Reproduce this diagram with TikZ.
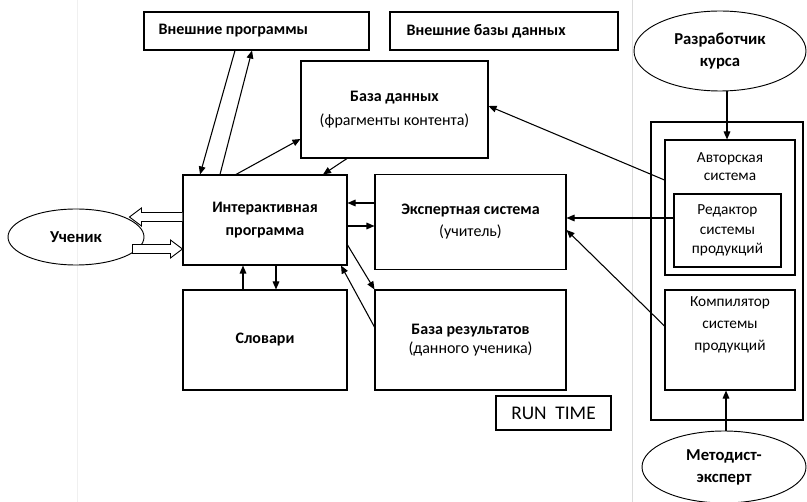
\documentclass[tikz,border=0pt]{standalone}
\usepackage{fontspec}
\setmainfont{Carlito}
\usetikzlibrary{arrows.meta,shapes.geometric}
\begin{document}
\begin{tikzpicture}[x=0.75pt,y=-0.75pt,
  box/.style 2 args={draw, line width=0.8pt, minimum width=#1*0.75pt, minimum height=#2*0.75pt, inner sep=0pt, align=center},
  ell/.style 2 args={draw, ellipse, line width=0.7pt, minimum width=#1*0.75pt, minimum height=#2*0.75pt, inner sep=0pt, align=center},
  arr/.style={line width=0.8pt, -{Triangle[length=6pt,width=5pt]}},
  hollow/.style={draw, line width=0.7pt, fill=white},
  tb/.style={font=\fontsize{12}{17}\selectfont\bfseries},
  tm/.style={font=\fontsize{12}{18}\selectfont},
  ts/.style={font=\fontsize{11.5}{#1}\selectfont, align=center},
  sep/.style={line width=0.6pt}
]
\fill[white] (0,0) rectangle (807,502);
\useasboundingbox (0,0) rectangle (807,502);
\draw[sep, black!14] (632,0) -- (632,502);
\draw[sep, black!6] (77,0) -- (77,502);

% top boxes
\node[box={225}{38}] (ep) at (256.5,31) {};
\node[tb, anchor=west, inner sep=0pt] (ept) at ([xshift=11.25pt]ep.west) {Внешние программы};
\node[box={228}{38}] (edb) at (504,31) {};
\node[tb, anchor=west, inner sep=0pt] (edbt) at ([xshift=12.75pt]edb.west) {Внешние базы данных};

% central boxes
\node[box={187}{97}, tm] (db) at (394.5,109.5) {\textbf{База данных}\\(фрагменты контента)};
\node[box={164}{90}, tm, font=\fontsize{12}{17.5}\selectfont\bfseries] (ip) at (265,220) {Интерактивная\\программа};
\node[box={191}{95}, font=\fontsize{12}{16.5}\selectfont] (es) at (470.5,222) {\textbf{Экспертная система}\\(учитель)};
\node[box={164}{100}, tb] (dict) at (265,340) {Словари};
\node[box={191}{100}, font=\fontsize{12}{14.5}\selectfont] (res) at (470.5,340) {\textbf{База результатов}\\(данного ученика)};
\node[box={115}{34}, font=\fontsize{14.5}{17}\selectfont] (rt) at (553.5,413) {RUN~~TIME};

% right part
\node[box={152}{298}] (outer) at (727,271) {};
\node[box={130}{135}] (auth) at (730,207.5) {};
\node[ts=13, inner sep=0pt] (autht) at (730,166.5) {Авторская\\система};
\node[box={107}{73}, ts=14.5] (red) at (727.5,230.5) {Редактор\\системы\\продукций};
\node[box={130}{100}] (comp) at (730,340) {};
\node[ts=16.5, inner sep=0pt] (compt) at (730,325) {Компилятор\\системы\\продукций};

% ellipses
\node[ell={172}{80}, font=\fontsize{12.5}{16}\selectfont\bfseries] (dev) at (720,51) {Разработчик\\курса};
\node[ell={164}{72}, font=\fontsize{12.5}{16.5}\selectfont\bfseries] (met) at (724,467) {Методист-\\эксперт};
\node[ell={136}{56}, font=\fontsize{12.5}{15}\selectfont\bfseries] (stud) at (76,237) {Ученик};

% hollow arrows between student and interactive program
\draw[hollow] (ip.west |- 0,212.5) -- ++(-41,0) -- ++(0,-4.5) -- ++(-12,9) -- ++(12,9) -- ++(0,-4.5) -- ++(41,0);
\draw[hollow] (ip.west |- 0,249) -- ++(-12,-9) -- ++(0,4.5) -- ++(-38,0) -- ++(0,9) -- ++(38,0) -- ++(0,4.5) -- cycle;

% connectors
\draw[arr] (ep.south -| 235,0) -- (ip.north -| 200,0);
\draw[arr] (ip.north -| 220,0) -- (ep.south -| 252,0);
\draw[arr] (ip.north -| 236,0) -- (db.west |- 0,139);
\draw[arr] (db.south -| 347,0) -- (ip.north -| 323,0);
\draw[arr] (es.west |- 0,203) -- (ip.east |- 0,203);
\draw[arr] (ip.east |- 0,226) -- (es.west |- 0,226);
\draw[arr] (ip.east |- 0,245) -- (res.north west);
\draw[arr] (res.west |- 0,327) -- (ip.south -| 341,0);
\draw[arr] (dict.north -| 243,0) -- (ip.south -| 243,0);
\draw[arr] (ip.south -| 276,0) -- (dict.north -| 276,0);
\draw[arr] (auth.west |- 0,180) -- (db.east |- 0,106);
\draw[arr] (red.west |- 0,218) -- (es.east |- 0,218);
\draw[arr] (comp.west |- 0,326) -- (es.east |- 0,230);
\draw[arr] (dev.south -| 727,0) -- (auth.north -| 727,0);
\draw[arr] (met.north -| 726,0) -- (comp.south -| 726,0);
\end{tikzpicture}
\end{document}
